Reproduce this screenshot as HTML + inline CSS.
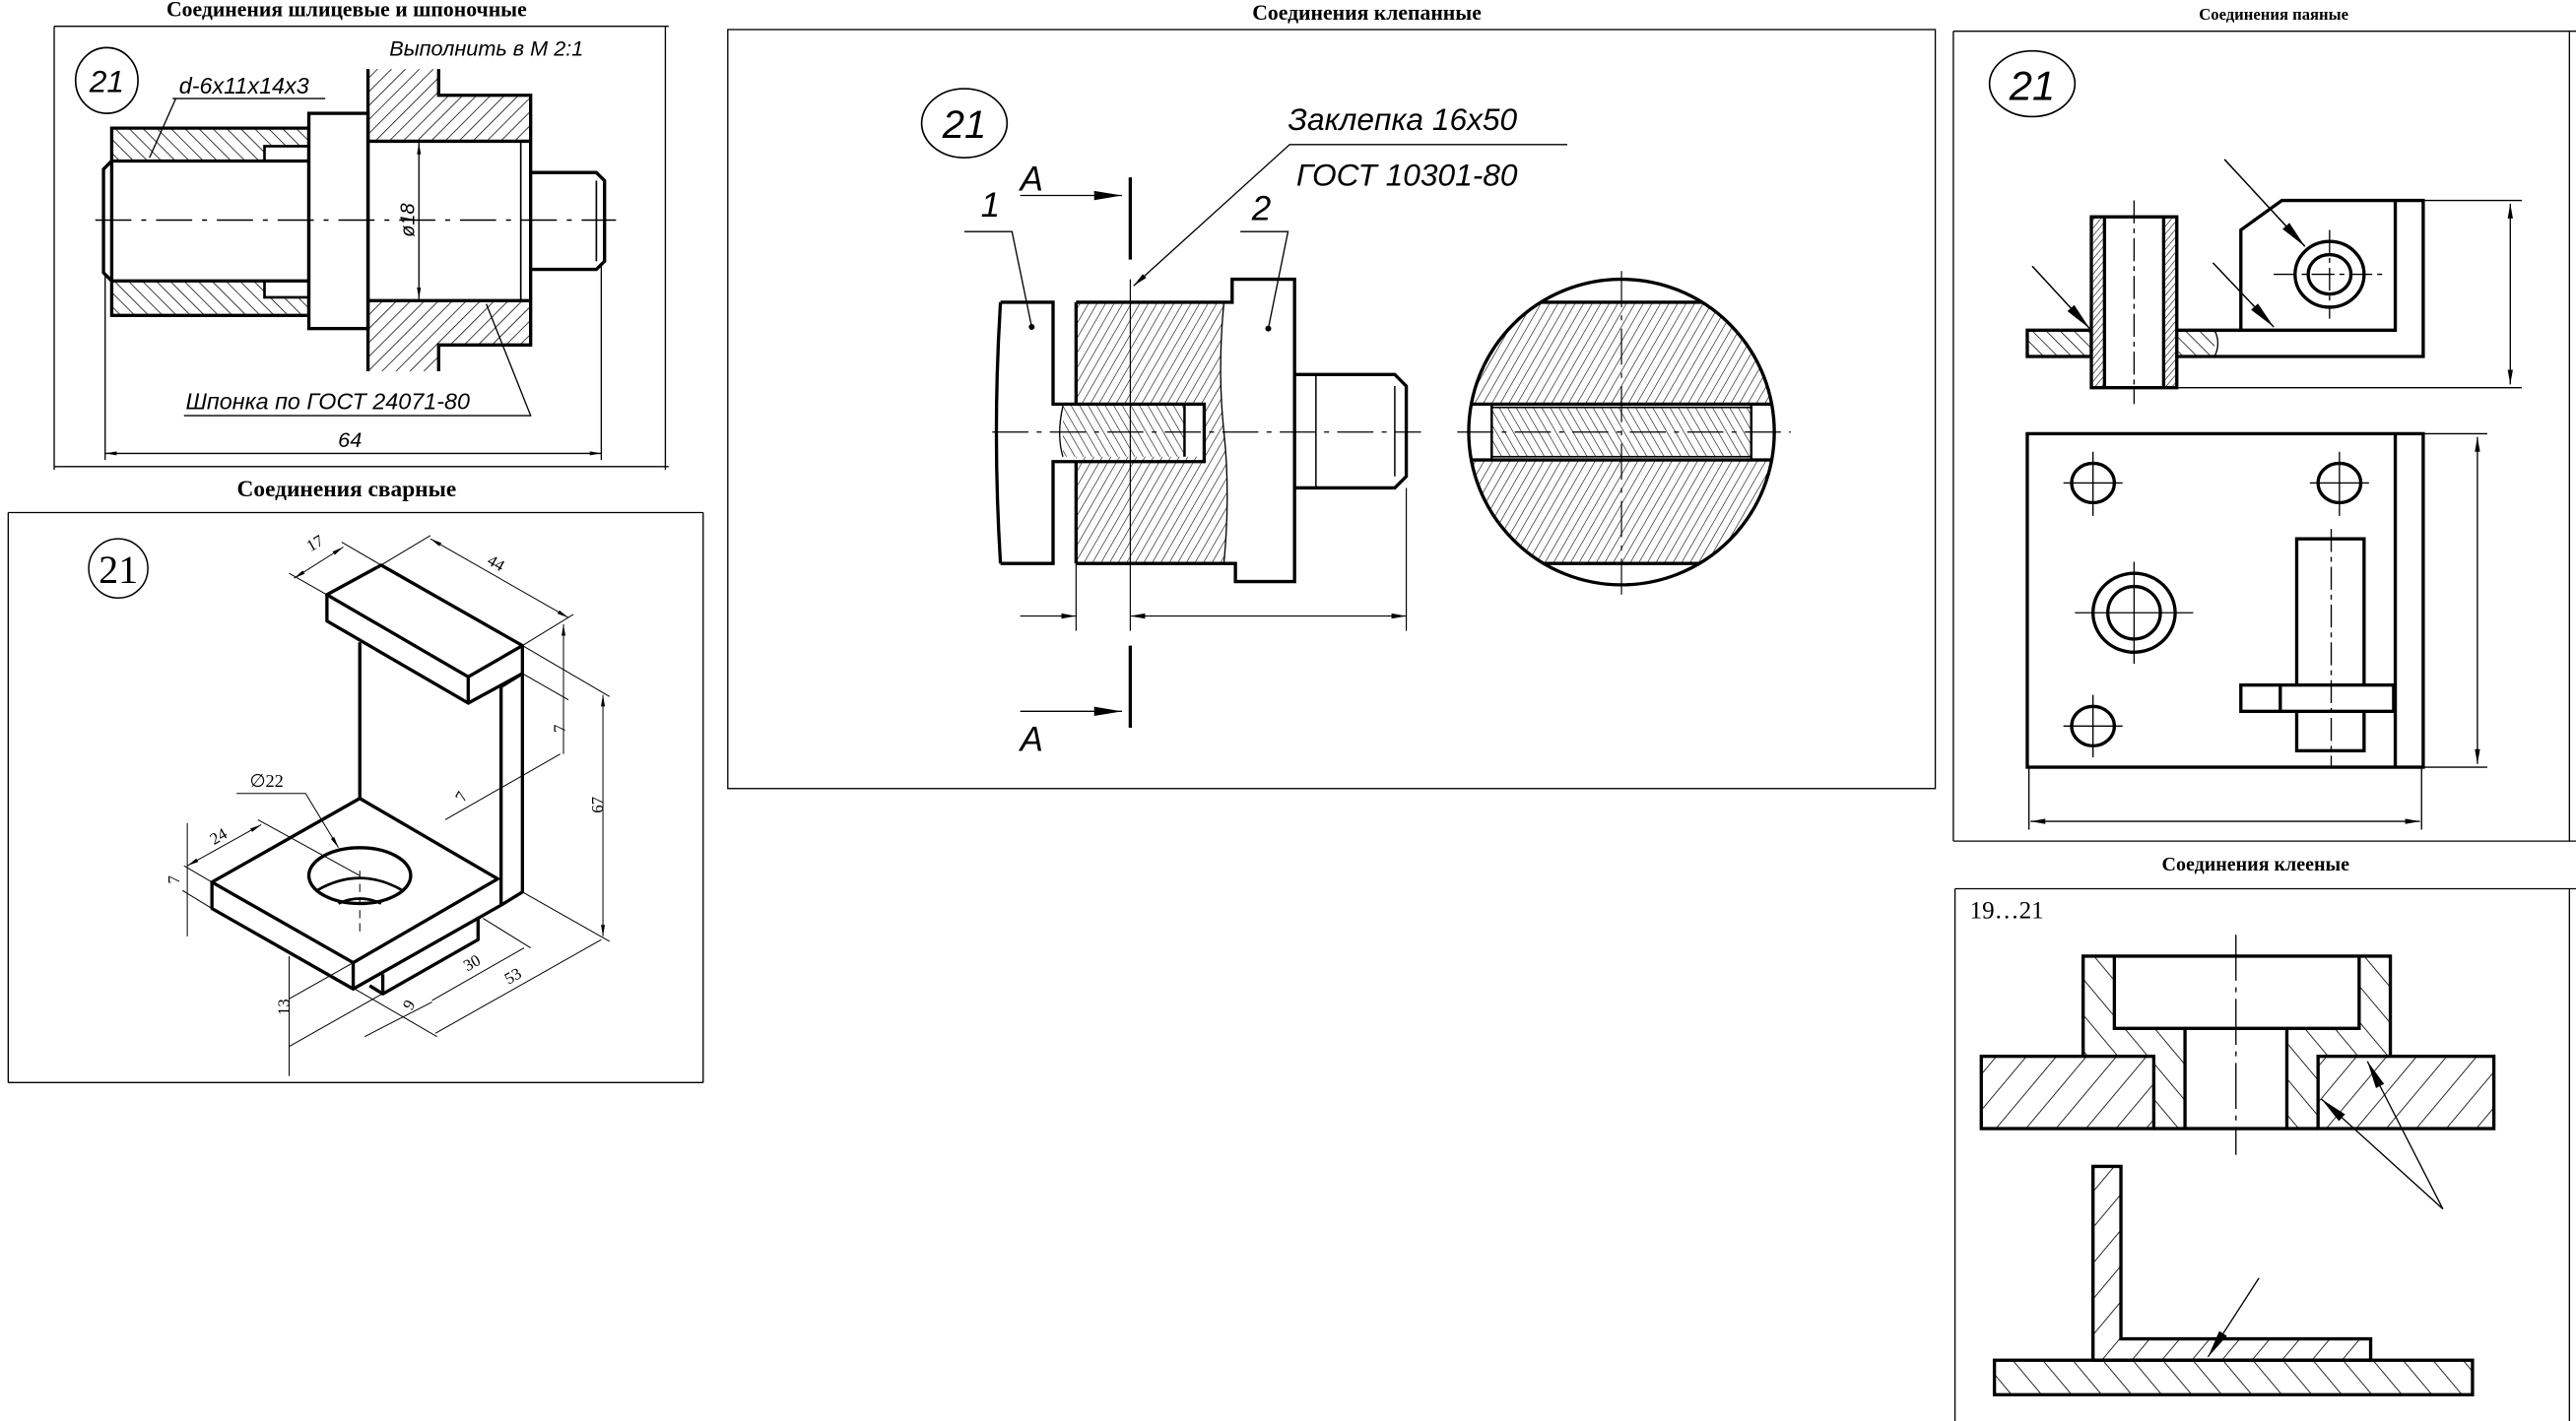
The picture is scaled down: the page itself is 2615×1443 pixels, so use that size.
<!DOCTYPE html>
<html><head><meta charset="utf-8"><style>
html,body{margin:0;padding:0;background:#fff;}
svg{display:block;}
.t{font-family:"Liberation Serif","Noto Serif CJK SC",serif;font-weight:bold;}
.i{font-family:"Liberation Sans","DejaVu Sans",sans-serif;font-style:italic;}
.s{font-family:"Liberation Serif",serif;}
</style></head><body>
<svg width="2615" height="1443" viewBox="0 0 1568 865" preserveAspectRatio="none" xmlns="http://www.w3.org/2000/svg">
<defs>
<pattern id="ha" width="6" height="6" patternUnits="userSpaceOnUse" patternTransform="rotate(45)"><line x1="0" y1="0" x2="0" y2="6" stroke="#000" stroke-width="0.9"/></pattern>
<pattern id="hb" width="6" height="6" patternUnits="userSpaceOnUse" patternTransform="rotate(-45)"><line x1="0" y1="0" x2="0" y2="6" stroke="#000" stroke-width="0.9"/></pattern>
<pattern id="hc" width="4.5" height="4.5" patternUnits="userSpaceOnUse" patternTransform="rotate(30)"><line x1="0" y1="0" x2="0" y2="4.5" stroke="#000" stroke-width="0.7"/></pattern>
<pattern id="hd" width="4.5" height="4.5" patternUnits="userSpaceOnUse" patternTransform="rotate(-30)"><line x1="0" y1="0" x2="0" y2="4.5" stroke="#000" stroke-width="0.7"/></pattern>
<pattern id="he" width="14" height="14" patternUnits="userSpaceOnUse" patternTransform="rotate(40)"><line x1="0" y1="0" x2="0" y2="14" stroke="#000" stroke-width="1"/></pattern>
<pattern id="hf" width="14" height="14" patternUnits="userSpaceOnUse" patternTransform="rotate(-40)"><line x1="0" y1="0" x2="0" y2="14" stroke="#000" stroke-width="1"/></pattern>
<pattern id="hg" width="3" height="3" patternUnits="userSpaceOnUse" patternTransform="rotate(40)"><line x1="0" y1="0" x2="0" y2="3" stroke="#000" stroke-width="0.7"/></pattern>
<marker id="ar" viewBox="0 0 10 10" refX="10" refY="5" markerWidth="9" markerHeight="4" orient="auto-start-reverse" markerUnits="userSpaceOnUse" preserveAspectRatio="none"><path d="M0,1 L10,5 L0,9z" fill="#000"/></marker>
<marker id="as" viewBox="0 0 10 10" refX="10" refY="5" markerWidth="7" markerHeight="3" orient="auto-start-reverse" markerUnits="userSpaceOnUse" preserveAspectRatio="none"><path d="M0,1 L10,5 L0,9z" fill="#000"/></marker>
<marker id="ab" viewBox="0 0 10 10" refX="10" refY="5" markerWidth="17" markerHeight="7" orient="auto-start-reverse" markerUnits="userSpaceOnUse" preserveAspectRatio="none"><path d="M0,1 L10,5 L0,9z" fill="#000"/></marker>
</defs>
<rect width="1568" height="865" fill="#fff"/>

<!-- ===== Panel 1 ===== -->
<text class="t" x="211" y="10" font-size="13" text-anchor="middle">Соединения шлицевые и шпоночные</text>
<g stroke="#000" stroke-width="0.8" fill="none">
<line x1="33" y1="16" x2="407" y2="16"/><line x1="33" y1="16" x2="33" y2="286"/><line x1="33" y1="284" x2="407" y2="284"/><line x1="405" y1="16" x2="405" y2="286"/>
</g>
<ellipse cx="65" cy="49" rx="19" ry="20" fill="none" stroke="#000" stroke-width="1"/>
<text class="i" x="65" y="56" font-size="19" text-anchor="middle">21</text>
<text class="i" x="109" y="57" font-size="14">d-6x11x14x3</text>
<text class="i" x="237" y="34" font-size="13">Выполнить в М 2:1</text>
<g stroke="#000" fill="none">
<path d="M68,78 H188 V98 H68Z" fill="url(#hb)" stroke="none"/>
<path d="M68,171 H188 V192 H68Z" fill="url(#hb)" stroke="none"/>
<rect x="161" y="89" width="27" height="9" fill="#fff" stroke="#000" stroke-width="1.6"/>
<rect x="161" y="171" width="27" height="10" fill="#fff" stroke="#000" stroke-width="1.6"/>
<g stroke-width="2">
<path d="M68,98 H188 M68,171 H188 M68,78 H188 V192 H68 Z"/>
<path d="M68,98 L63,103 V166 L68,171"/>
<rect x="188" y="69" width="36" height="131" fill="#fff"/>
</g>
<path d="M224,42 H267 V58 H323 V86 H224Z" fill="url(#ha)" stroke="none"/>
<path d="M224,183 H323 V210 H267 V226 H224Z" fill="url(#ha)" stroke="none"/>
<path d="M224,42 V226 M267,42 V58 H323 V210 H267 V226 M224,86 H323 M224,183 H323" stroke-width="2"/>
<line x1="317" y1="86" x2="317" y2="183" stroke-width="1"/>
<path d="M323,105 H363 L368,110 V159 L363,164 H323" stroke-width="2"/>
<line x1="363" y1="110" x2="363" y2="159" stroke-width="1"/>
<line x1="58" y1="134" x2="375" y2="134" stroke-width="0.9" stroke-dasharray="22,6,3,6"/>
<line x1="255" y1="87" x2="255" y2="182" stroke-width="0.8" marker-start="url(#as)" marker-end="url(#as)"/>
<path d="M105,60 H198 M107,60 L91,96" stroke-width="0.8"/>
<path d="M112,253 H323 L296,185" stroke-width="0.8"/>
<line x1="64" y1="276" x2="366" y2="276" stroke-width="0.8" marker-start="url(#as)" marker-end="url(#as)"/>
<path d="M64,166 V280 M366,160 V280" stroke-width="0.8"/>
</g>
<text class="i" x="250" y="136" font-size="12" text-anchor="middle" transform="rotate(-90 250 134)">ø18</text>
<text class="i" x="113" y="249" font-size="14">Шпонка по ГОСТ 24071-80</text>
<text class="i" x="213" y="272" font-size="13" text-anchor="middle">64</text>

<!-- ===== Panel 2 ===== -->
<text class="t" x="211" y="302" font-size="14" text-anchor="middle">Соединения сварные</text>
<g stroke="#000" stroke-width="0.8" fill="none">
<line x1="5" y1="312" x2="428" y2="312"/><line x1="5" y1="659" x2="428" y2="659"/><line x1="5" y1="312" x2="5" y2="659"/><line x1="428" y1="312" x2="428" y2="659"/>
</g>
<circle cx="72" cy="346" r="18" fill="none" stroke="#000" stroke-width="0.9"/>
<text class="s" x="72" y="355" font-size="24" text-anchor="middle">21</text>
<g stroke="#000" stroke-width="2" fill="none" stroke-linejoin="round">
<path d="M199,362 L232,344 L318,393 L285,412 Z"/>
<path d="M199,362 V378 L285,428 V412"/>
<path d="M285,428 L318,410 V393"/>
<path d="M219,391 V486"/>
<path d="M305,418 V551 M318,410 V543 M305,418 L318,410"/>
<path d="M129,537 L219,486 L303,535 L215,586 Z"/>
<path d="M129,537 V553 L215,602 V586 M215,602 L305,551 M305,551 L318,543"/>
<path d="M291,558 V572 L233,605 L225,600 M233,593 V605"/>
<ellipse cx="219" cy="533" rx="31" ry="17"/>
<path d="M193,542 Q219,527 245,542" stroke-width="1.6"/>
<path d="M206,550 Q219,544 232,550" stroke-width="1.6"/>
</g>
<g stroke="#000" stroke-width="0.6" fill="none">
<line x1="219" y1="530" x2="219" y2="570" stroke-dasharray="5,3"/>
<path d="M176,349 L199,362 M208,330 L232,344"/>
<line x1="179" y1="352" x2="209" y2="333" marker-start="url(#as)" marker-end="url(#as)"/>
<path d="M232,344 L262,326 M318,393 L349,374"/>
<line x1="262" y1="328" x2="346" y2="376" marker-start="url(#as)" marker-end="url(#as)"/>
<path d="M318,393 L371,424 M318,410 L346,426"/>
<line x1="343" y1="380" x2="343" y2="459" marker-start="url(#as)"/>
<line x1="271" y1="499" x2="341" y2="459"/>
<line x1="367" y1="423" x2="367" y2="570" marker-start="url(#as)" marker-end="url(#as)"/>
<path d="M318,543 L371,573"/>
<path d="M144,483 H186 L206,516" marker-end="url(#as)"/>
<path d="M129,537 L112,527 M157,499 L219,533"/>
<line x1="114" y1="527" x2="159" y2="502" marker-start="url(#as)" marker-end="url(#as)"/>
<line x1="114" y1="501" x2="114" y2="570"/>
<path d="M111,542 L129,553"/>
<line x1="176" y1="582" x2="176" y2="655"/>
<path d="M176,608 L215,586 M176,637 L291,572"/>
<path d="M222,631 L263,610 M263,609 L319,577 M265,629 L366,572 M216,602 L266,631 M294,559 L323,577"/>
</g>
<g class="s" font-size="10">
<text x="189" y="336" transform="rotate(-30 189 336)">17</text>
<text x="296" y="343" transform="rotate(30 296 343)">44</text>
<text x="340" y="450" transform="rotate(-90 340 446)">7</text>
<text x="278" y="489" transform="rotate(-60 280 485)">7</text>
<text x="364" y="502" transform="rotate(-90 362 497)">67</text>
<text x="152" y="479" font-size="11">∅22</text>
<text x="128" y="514" transform="rotate(-30 130 510)">24</text>
<text x="108" y="543" transform="rotate(-90 106 540)">7</text>
<text x="174" y="624" transform="rotate(-90 172 620)">13</text>
<text x="245" y="614" transform="rotate(-60 249 610)">9</text>
<text x="282" y="590" transform="rotate(-30 286 586)">30</text>
<text x="307" y="598" transform="rotate(-30 311 594)">53</text>
</g>

<!-- ===== Panel 3 ===== -->
<text class="t" x="832" y="12" font-size="13" text-anchor="middle">Соединения клепанные</text>
<rect x="443" y="18" width="735" height="462" fill="none" stroke="#000" stroke-width="0.8"/>
<ellipse cx="587" cy="75" rx="26" ry="21" fill="none" stroke="#000" stroke-width="1"/>
<text class="i" x="587" y="84" font-size="24" text-anchor="middle">21</text>
<text class="i" x="784" y="79" font-size="19">Заклепка 16х50</text>
<text class="i" x="789" y="113" font-size="19">ГОСТ 10301-80</text>
<text class="i" x="621" y="116" font-size="21">А</text>
<text class="i" x="621" y="457" font-size="21">А</text>
<text class="i" x="597" y="132" font-size="21">1</text>
<text class="i" x="762" y="134" font-size="21">2</text>
<g stroke="#000" fill="none">
<path d="M954,88 H785 L690,174" stroke-width="0.8" marker-end="url(#ar)"/>
<line x1="621" y1="119" x2="683" y2="119" stroke-width="0.8" marker-end="url(#ab)"/>
<line x1="621" y1="433" x2="683" y2="433" stroke-width="0.8" marker-end="url(#ab)"/>
<path d="M688,108 V158 M688,393 V443" stroke-width="2"/>
<path d="M587,141 H616 L628,199 M755,141 H784 L772,200" stroke-width="0.8"/>
<circle cx="628" cy="199" r="1.3" fill="#000"/><circle cx="772" cy="200" r="1.3" fill="#000"/>
<path d="M655,184 H745 Q741,225 745,263 Q749,300 745,343 H655Z" fill="url(#hc)" stroke="none"/>
<rect x="647" y="247" width="86" height="31" fill="#fff" stroke="none"/>
<rect x="647" y="247" width="74" height="31" fill="url(#hd)" stroke="none"/>
<path d="M609,184 H641 V246 H733 V281 H641 V343 H609 M609,184 Q604,263 609,343" stroke-width="2"/>
<path d="M655,184 V246 M655,281 V343" stroke-width="2"/>
<path d="M655,184 H750 V170 H788 V354 H752 V343 H655" stroke-width="2"/>
<path d="M745,184 Q741,225 745,263 Q749,300 745,343 M647,247 Q643,265 647,278" stroke-width="0.8"/>
<line x1="721" y1="247" x2="721" y2="278" stroke-width="1.5"/>
<path d="M788,228 H849 L856,235 V290 L849,297 H788" stroke-width="2"/>
<path d="M801,228 V297 M849,235 V290" stroke-width="0.9"/>
<line x1="604" y1="263" x2="865" y2="263" stroke-width="0.7" stroke-dasharray="22,5,3,5"/>
<line x1="688" y1="170" x2="688" y2="384" stroke-width="0.7"/>
<line x1="621" y1="375" x2="655" y2="375" stroke-width="0.7" marker-end="url(#ar)"/>
<line x1="688" y1="375" x2="856" y2="375" stroke-width="0.7" marker-start="url(#ar)" marker-end="url(#ar)"/>
<path d="M655,343 V384 M856,297 V384" stroke-width="0.7"/>
<clipPath id="cc"><circle cx="987" cy="263" r="93"/></clipPath>
<g clip-path="url(#cc)">
<rect x="890" y="184" width="200" height="159" fill="url(#hc)"/>
<rect x="890" y="246" width="200" height="34" fill="#fff"/>
<rect x="908" y="248" width="158" height="30" fill="url(#hd)"/>
<path d="M890,184 H1090 M890,343 H1090 M890,246 H1090 M890,280 H1090" stroke-width="2"/>
<path d="M908,246 V280 M1066,246 V280" stroke-width="1.5"/>
</g>
<circle cx="987" cy="263" r="93" stroke-width="2"/>
<line x1="987" y1="165" x2="987" y2="365" stroke-width="0.7" stroke-dasharray="22,5,3,5"/>
<line x1="887" y1="263" x2="1090" y2="263" stroke-width="0.7" stroke-dasharray="22,5,3,5"/>
</g>

<!-- ===== Panel 4 ===== -->
<text class="t" x="1384" y="12" font-size="10" text-anchor="middle">Соединения паяные</text>
<g stroke="#000" stroke-width="0.8" fill="none">
<line x1="1189" y1="19" x2="1568" y2="19"/><line x1="1189" y1="19" x2="1189" y2="512"/><line x1="1189" y1="512" x2="1568" y2="512"/><line x1="1564" y1="19" x2="1564" y2="512"/>
</g>
<ellipse cx="1237" cy="51" rx="26" ry="20" fill="none" stroke="#000" stroke-width="1"/>
<text class="i" x="1237" y="61" font-size="25" text-anchor="middle">21</text>
<g stroke="#000" fill="none">
<rect x="1234" y="201" width="39" height="16" fill="url(#hb)" stroke-width="2"/>
<rect x="1325" y="201" width="23" height="16" fill="url(#hb)" stroke="none"/>
<rect x="1273" y="132" width="52" height="104" fill="#fff" stroke-width="2"/>
<rect x="1274" y="133" width="7" height="102" fill="url(#hg)" stroke="none"/>
<rect x="1317" y="133" width="7" height="102" fill="url(#hg)" stroke="none"/>
<path d="M1281,132 V236 M1317,132 V236" stroke-width="2"/>
<path d="M1325,201 H1458 V122 M1325,217 H1475 V122 H1389 L1364,140 V201 M1458,122 V201" stroke-width="2"/>
<path d="M1325,236 H1535 M1475,122 H1535 M1348,201 Q1352,209 1348,217" stroke-width="0.8"/>
<line x1="1528" y1="124" x2="1528" y2="234" stroke-width="0.8" marker-start="url(#ar)" marker-end="url(#ar)"/>
<ellipse cx="1418" cy="167" rx="21" ry="20" stroke-width="2"/>
<ellipse cx="1418" cy="167" rx="13" ry="12" stroke-width="2"/>
<path d="M1384,167 H1453 M1418,140 V194 M1299,122 V246" stroke-width="0.8" stroke-dasharray="14,3,3,3"/>
<line x1="1354" y1="97" x2="1403" y2="150" stroke-width="0.9" marker-end="url(#ab)"/>
<line x1="1237" y1="162" x2="1272" y2="200" stroke-width="0.9" marker-end="url(#ab)"/>
<line x1="1347" y1="160" x2="1384" y2="199" stroke-width="0.9" marker-end="url(#ab)"/>
<rect x="1234" y="264" width="241" height="203" stroke-width="2"/>
<line x1="1458" y1="264" x2="1458" y2="467" stroke-width="2"/>
<ellipse cx="1274" cy="294" rx="13" ry="12" stroke-width="2"/>
<ellipse cx="1424" cy="294" rx="13" ry="12" stroke-width="2"/>
<ellipse cx="1274" cy="442" rx="13" ry="12" stroke-width="2"/>
<ellipse cx="1299" cy="373" rx="25" ry="24" stroke-width="2"/>
<ellipse cx="1299" cy="373" rx="16" ry="16" stroke-width="2"/>
<path d="M1256,294 H1292 M1274,275 V314 M1406,294 H1442 M1424,275 V314 M1256,442 H1292 M1274,423 V461 M1263,373 H1335 M1299,342 V404" stroke-width="0.8"/>
<rect x="1398" y="328" width="41" height="129" stroke-width="2"/>
<rect x="1364" y="417" width="93" height="16" fill="#fff" stroke-width="2"/>
<line x1="1388" y1="417" x2="1388" y2="433" stroke-width="2"/>
<line x1="1419" y1="322" x2="1419" y2="467" stroke-width="0.8" stroke-dasharray="14,3,3,3"/>
<path d="M1475,264 H1514 M1475,467 H1514 M1235,467 V505 M1474,467 V505" stroke-width="0.8"/>
<line x1="1508" y1="266" x2="1508" y2="465" stroke-width="0.8" marker-start="url(#ar)" marker-end="url(#ar)"/>
<line x1="1236" y1="500" x2="1473" y2="500" stroke-width="0.8" marker-start="url(#ar)" marker-end="url(#ar)"/>
</g>

<!-- ===== Panel 5 ===== -->
<text class="t" x="1373" y="530" font-size="12" text-anchor="middle">Соединения клееные</text>
<g stroke="#000" stroke-width="0.8" fill="none">
<line x1="1190" y1="541" x2="1568" y2="541"/><line x1="1190" y1="541" x2="1190" y2="865"/><line x1="1564" y1="541" x2="1564" y2="865"/>
</g>
<text class="s" x="1199" y="559" font-size="15">19…21</text>
<g stroke="#000" fill="none">
<path d="M1268,582 H1455 V643 H1411 V687 H1392 V626 H1330 V687 H1311 V643 H1268Z" fill="url(#hf)" stroke="none"/>
<rect x="1287" y="582" width="149" height="44" fill="#fff" stroke="none"/>
<rect x="1206" y="643" width="105" height="44" fill="url(#he)" stroke-width="2"/>
<rect x="1411" y="643" width="107" height="44" fill="url(#he)" stroke-width="2"/>
<path d="M1268,643 V582 H1455 V643 M1287,582 V626 H1436 V582 M1330,626 V687 M1392,626 V687 M1311,687 H1411" stroke-width="2"/>
<line x1="1361" y1="569" x2="1361" y2="703" stroke-width="0.8" stroke-dasharray="28,4,3,4"/>
<line x1="1487" y1="736" x2="1413" y2="669" stroke-width="0.8" marker-end="url(#ab)"/>
<line x1="1487" y1="736" x2="1441" y2="646" stroke-width="0.8" marker-end="url(#ab)"/>
<path d="M1274,710 H1291 V815 H1443 V828 H1274Z" fill="url(#he)" stroke-width="2"/>
<rect x="1214" y="828" width="291" height="21" fill="url(#hf)" stroke-width="2"/>
<line x1="1375" y1="778" x2="1344" y2="826" stroke-width="0.8" marker-end="url(#ab)"/>
</g>
</svg>
</body></html>
